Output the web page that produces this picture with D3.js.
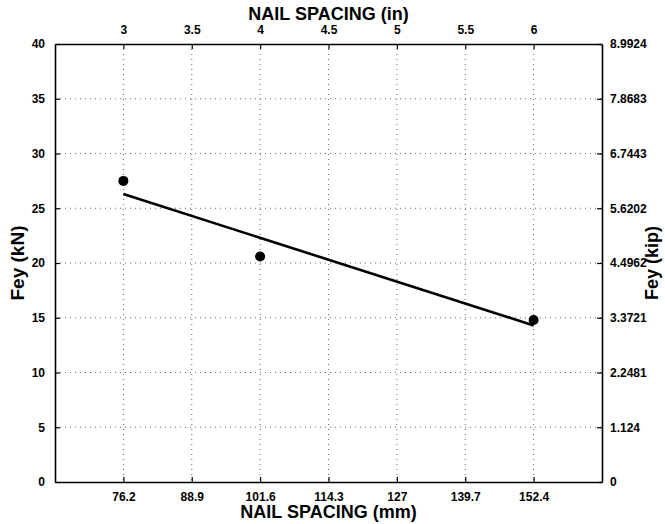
<!DOCTYPE html>
<html>
<head>
<meta charset="utf-8">
<script src="https://d3js.org/d3.v7.min.js"></script>
<style>
  body { margin: 0; background: #fff; }
  text { font-family: "Liberation Sans", Arial, sans-serif; font-weight: bold; fill: #000; }
</style>
</head>
<body>
<div id="svgcontainer"></div>
<script>
var width = 665;
var height = 524;

// nail spacing ticks
var mmTicks = [76.2, 88.9, 101.6, 114.3, 127, 139.7, 152.4];
var inTicks = [3, 3.5, 4, 4.5, 5, 5.5, 6];
var kNTicks = [0, 5, 10, 15, 20, 25, 30, 35, 40];
var kipLabels = ["0", "1.124", "2.2481", "3.3721", "4.4962", "5.6202", "6.7443", "7.8683", "8.9924"];

// measured points (mm, kN)
var spacingMm = [76.2, 101.6, 152.4];
var feyKN = [27.5, 20.6, 14.8];

// fitted line end points (mm, kN)
var fitMm = [76.2, 152.4];
var fitKN = [26.3, 14.3];

var m = { left: 55, right: 602, top: 44, bottom: 482 };

var svg = d3.select("#svgcontainer")
    .append("svg")
    .attr("width", width)
    .attr("height", height);

var x = d3.scaleLinear().domain([63.5, 165.1]).range([m.left, m.right]);
var xIn = d3.scaleLinear().domain([2.5, 6.5]).range([m.left, m.right]);
var y = d3.scaleLinear().domain([0, 40]).range([m.bottom, m.top]);

// grid
var grid = svg.append("g")
    .attr("stroke", "#666")
    .attr("stroke-width", 1)
    .attr("stroke-dasharray", "1,4");

grid.selectAll(".vg")
    .data(mmTicks)
    .enter().append("line")
    .attr("x1", function(d) { return x(d); })
    .attr("x2", function(d) { return x(d); })
    .attr("y1", m.top)
    .attr("y2", m.bottom);

grid.selectAll(".hg")
    .data(kNTicks.slice(1, -1))
    .enter().append("line")
    .attr("x1", m.left)
    .attr("x2", m.right)
    .attr("y1", function(d) { return y(d); })
    .attr("y2", function(d) { return y(d); });

// axes
var bottomAxis = svg.append("g")
    .attr("transform", "translate(0," + m.bottom + ")")
    .call(d3.axisBottom(x).tickValues(mmTicks).tickSizeInner(-5).tickSizeOuter(0).tickPadding(10)
        .tickFormat(function(d) { return String(d); }));

var topAxis = svg.append("g")
    .attr("transform", "translate(0," + m.top + ")")
    .call(d3.axisTop(xIn).tickValues(inTicks).tickSizeInner(-5).tickSizeOuter(0).tickPadding(10)
        .tickFormat(function(d) { return String(d); }));

var leftAxis = svg.append("g")
    .attr("transform", "translate(" + m.left + ",0)")
    .call(d3.axisLeft(y).tickValues(kNTicks).tickSizeInner(-5).tickSizeOuter(0).tickPadding(10));

var rightAxis = svg.append("g")
    .attr("transform", "translate(" + m.right + ",0)")
    .call(d3.axisRight(y).tickValues(kNTicks).tickSizeInner(-5).tickSizeOuter(0).tickPadding(8)
        .tickFormat(function(d, i) { return kipLabels[i]; }));

[bottomAxis, topAxis, leftAxis, rightAxis].forEach(function(a) {
    a.selectAll("path").attr("stroke", "#000").attr("stroke-width", 1.6);
    a.selectAll("line").attr("stroke", "#000").attr("stroke-width", 1.2);
    a.selectAll("text").attr("font-size", 12).attr("font-family", "Liberation Sans, Arial, sans-serif")
        .attr("font-weight", "bold").attr("fill", "#000");
});

// fit line
var fit = fitMm.map(function(d, i) { return [d, fitKN[i]]; });
svg.append("path")
    .datum(fit)
    .attr("fill", "none")
    .attr("stroke", "#000")
    .attr("stroke-width", 2.6)
    .attr("d", d3.line()
        .x(function(d) { return x(d[0]); })
        .y(function(d) { return y(d[1]); }));

// points
svg.selectAll(".pt")
    .data(spacingMm)
    .enter().append("circle")
    .attr("cx", function(d) { return x(d); })
    .attr("cy", function(d, i) { return y(feyKN[i]); })
    .attr("r", 5)
    .attr("fill", "#000");

// titles
svg.append("text")
    .attr("x", (m.left + m.right) / 2)
    .attr("y", 20)
    .attr("text-anchor", "middle")
    .attr("font-size", 18)
    .text("NAIL SPACING (in)");

svg.append("text")
    .attr("x", (m.left + m.right) / 2)
    .attr("y", 518)
    .attr("text-anchor", "middle")
    .attr("font-size", 18)
    .text("NAIL SPACING (mm)");

svg.append("text")
    .attr("transform", "translate(24," + ((m.top + m.bottom) / 2) + ") rotate(-90)")
    .attr("text-anchor", "middle")
    .attr("font-size", 19)
    .text("Fey (kN)");

svg.append("text")
    .attr("transform", "translate(658," + ((m.top + m.bottom) / 2) + ") rotate(-90)")
    .attr("text-anchor", "middle")
    .attr("font-size", 18)
    .text("Fey (kip)");
</script>
</body>
</html>
